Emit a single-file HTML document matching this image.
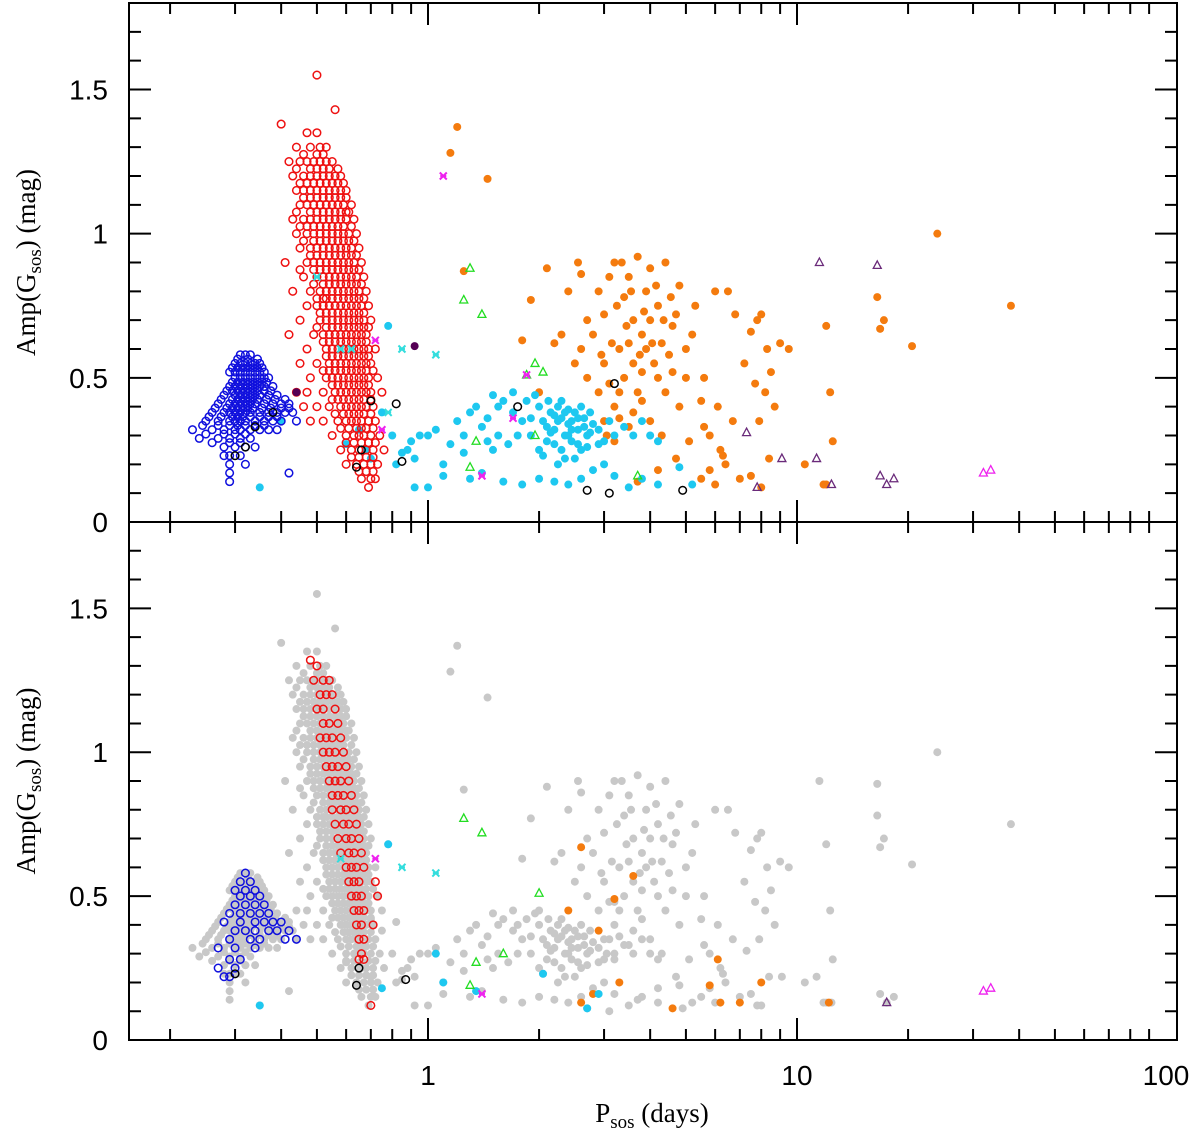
<!DOCTYPE html>
<html><head><meta charset="utf-8"><style>
body{margin:0;background:#fff;}
svg text{font-family:"Liberation Sans",sans-serif;}
</style></head><body>
<svg id="chart" width="1200" height="1142" xmlns="http://www.w3.org/2000/svg"></svg>
<script>
// ---- data ----
const redRowsTop = "1.55:0.5;1.43:0.56;1.38:0.4;1.35:0.47,0.5;1.3:0.44,0.48,0.51,0.53;1.25:0.42,0.45,0.47,0.49,0.51,0.53,0.55;1.2:0.43,0.46,0.48,0.5,0.52,0.54,0.56,0.58;1.15:0.44,0.46,0.48,0.5,0.52,0.54,0.56,0.58,0.6;1.1:0.45,0.47,0.49,0.51,0.53,0.55,0.57,0.59,0.62;1.05:0.43,0.46,0.48,0.5,0.52,0.54,0.56,0.58,0.6,0.63;1.0:0.44,0.47,0.49,0.51,0.53,0.55,0.57,0.59,0.61,0.64;0.95:0.45,0.48,0.5,0.52,0.54,0.56,0.58,0.6,0.62,0.65;0.9:0.41,0.47,0.49,0.51,0.53,0.55,0.57,0.59,0.61,0.63,0.66;0.85:0.46,0.5,0.52,0.54,0.56,0.58,0.6,0.62,0.64,0.67;0.8:0.43,0.48,0.51,0.53,0.55,0.57,0.59,0.61,0.63,0.65,0.68;0.75:0.47,0.5,0.52,0.54,0.56,0.58,0.6,0.62,0.64,0.66,0.69;0.7:0.45,0.51,0.53,0.55,0.57,0.59,0.61,0.63,0.65,0.67,0.7;0.65:0.42,0.49,0.52,0.54,0.56,0.58,0.6,0.62,0.64,0.66,0.68;0.6:0.47,0.53,0.55,0.57,0.59,0.61,0.63,0.65,0.67,0.69,0.72;0.55:0.45,0.5,0.54,0.56,0.58,0.6,0.62,0.64,0.66,0.68,0.7;0.5:0.48,0.53,0.55,0.57,0.59,0.61,0.63,0.65,0.67,0.69,0.73;0.45:0.44,0.47,0.52,0.56,0.58,0.6,0.62,0.64,0.66,0.68,0.7,0.75;0.4:0.46,0.5,0.54,0.58,0.6,0.62,0.64,0.66,0.68,0.71;0.35:0.48,0.52,0.57,0.6,0.62,0.64,0.66,0.69,0.72;0.3:0.55,0.6,0.63,0.65,0.67,0.7,0.74;0.25:0.58,0.62,0.65,0.68,0.71,0.76;0.2:0.6,0.64,0.67,0.7,0.73;0.15:0.66,0.7,0.72;0.12:0.69";
const redRowsTop2 = "1.275:0.46,0.5,0.52;1.225:0.44,0.48,0.5,0.52,0.54,0.57;1.175:0.45,0.47,0.49,0.51,0.53,0.55,0.57,0.59;1.125:0.46,0.48,0.5,0.52,0.54,0.56,0.58,0.6;1.075:0.44,0.48,0.5,0.52,0.54,0.56,0.58,0.6,0.61;1.025:0.45,0.47,0.49,0.51,0.53,0.55,0.57,0.59,0.62;0.975:0.46,0.49,0.51,0.53,0.55,0.57,0.59,0.61,0.63;0.925:0.48,0.5,0.52,0.54,0.56,0.58,0.6,0.62,0.64;0.875:0.45,0.49,0.51,0.53,0.55,0.57,0.59,0.61,0.63,0.65;0.825:0.49,0.52,0.54,0.56,0.58,0.6,0.62,0.64,0.66;0.775:0.5,0.52,0.53,0.55,0.57,0.59,0.61,0.63,0.65,0.67;0.725:0.51,0.53,0.55,0.57,0.59,0.61,0.63,0.65,0.67;0.675:0.5,0.53,0.55,0.57,0.59,0.61,0.63,0.65,0.67,0.69;0.625:0.52,0.54,0.56,0.58,0.6,0.62,0.64,0.66,0.68;0.575:0.53,0.55,0.57,0.59,0.61,0.63,0.65,0.67,0.69;0.525:0.52,0.54,0.56,0.58,0.6,0.62,0.64,0.66,0.68,0.71;0.475:0.55,0.57,0.59,0.61,0.63,0.65,0.67,0.69;0.425:0.55,0.57,0.59,0.61,0.63,0.65,0.67,0.7;0.375:0.56,0.59,0.61,0.63,0.65,0.67,0.7;0.325:0.58,0.61,0.64,0.66,0.68,0.71;0.275:0.6,0.63,0.66,0.69,0.72;0.225:0.62,0.65,0.68,0.71;0.175:0.65,0.68,0.71";
const blueRowsTop = "0.58:0.31,0.32,0.33;0.55:0.3,0.31,0.32,0.33,0.34,0.35;0.52:0.29,0.3,0.31,0.32,0.33,0.34,0.35,0.36;0.5:0.3,0.31,0.32,0.33,0.34,0.35,0.36,0.37;0.47:0.29,0.3,0.31,0.32,0.33,0.34,0.35,0.36,0.38;0.44:0.28,0.3,0.31,0.32,0.33,0.34,0.35,0.37,0.39;0.41:0.27,0.29,0.3,0.31,0.32,0.33,0.34,0.36,0.38,0.4,0.42;0.38:0.26,0.28,0.29,0.3,0.31,0.32,0.33,0.35,0.37,0.39,0.41,0.43;0.35:0.25,0.27,0.29,0.3,0.31,0.32,0.34,0.36,0.38,0.4,0.44;0.32:0.23,0.26,0.28,0.3,0.31,0.33,0.35,0.37,0.39;0.29:0.24,0.27,0.29,0.31,0.33;0.26:0.28,0.3,0.32,0.34;0.23:0.28,0.29,0.31;0.2:0.29,0.32;0.17:0.29,0.42;0.14:0.29";
const blueRowsTop2 = "0.565:0.305,0.325,0.345;0.535:0.295,0.305,0.315,0.325,0.335,0.345,0.355;0.485:0.295,0.305,0.315,0.325,0.335,0.345,0.355,0.365;0.455:0.285,0.295,0.305,0.315,0.325,0.335,0.345,0.36,0.375;0.425:0.275,0.295,0.305,0.315,0.325,0.335,0.345,0.365,0.385,0.41;0.395:0.265,0.285,0.295,0.305,0.315,0.325,0.335,0.355,0.375,0.4,0.42;0.365:0.255,0.275,0.295,0.305,0.315,0.33,0.35,0.37,0.39;0.335:0.245,0.27,0.29,0.305,0.32,0.34,0.36;0.305:0.25,0.28,0.3,0.32;0.275:0.26,0.29,0.31";
const orangeTop = "1.2,1.37 1.15,1.28 1.45,1.19 1.25,0.87 1.9,0.77 2.1,0.88 2.4,0.8 2.6,0.86 2.55,0.9 2.7,0.7 2.3,0.65 1.8,0.63 2.0,0.45 2.2,0.62 2.5,0.55 2.8,0.65 2.9,0.8 3.0,0.72 3.1,0.85 3.2,0.9 3.3,0.6 3.4,0.78 3.5,0.85 3.6,0.7 3.7,0.92 3.8,0.65 3.9,0.8 4.0,0.88 4.2,0.75 4.4,0.9 4.6,0.68 4.8,0.82 5.0,0.6 5.3,0.75 5.6,0.5 6.0,0.8 6.5,0.8 3.0,0.55 3.1,0.48 3.2,0.4 3.3,0.45 3.4,0.5 3.5,0.62 3.6,0.55 3.7,0.45 3.8,0.52 3.9,0.6 4.0,0.7 4.1,0.55 4.2,0.5 4.3,0.62 4.4,0.45 4.5,0.58 4.6,0.52 4.7,0.72 4.8,0.4 5.0,0.5 3.0,0.35 3.05,0.3 3.2,0.28 3.3,0.36 3.5,0.33 3.6,0.38 3.8,0.42 4.0,0.35 4.3,0.3 3.15,0.62 3.25,0.75 3.45,0.68 3.55,0.8 3.75,0.58 3.85,0.73 4.05,0.62 4.15,0.82 4.35,0.7 4.55,0.78 2.9,0.45 2.95,0.58 3.35,0.9 2.7,0.5 2.6,0.6 5.2,0.65 5.5,0.42 5.8,0.3 6.2,0.25 6.8,0.72 7.2,0.55 7.5,0.66 7.8,0.7 8.0,0.72 8.3,0.6 8.5,0.52 8.2,0.45 8.7,0.4 7.9,0.35 7.7,0.48 9.0,0.62 9.5,0.6 12.0,0.68 12.3,0.45 12.5,0.28 11.8,0.13 16.5,0.78 16.8,0.67 17.2,0.7 20.5,0.61 24,1.0 38,0.75 6.0,0.13 6.4,0.2 7.0,0.15 6.3,0.23 5.8,0.18 8.0,0.12 8.4,0.22 7.5,0.16 10.5,0.2 12,0.13 5.5,0.15 4.7,0.22 4.2,0.18 3.7,0.14 5.1,0.28 5.6,0.33 6.1,0.4 6.7,0.35";
const cyanTop = "0.35,0.12 0.4,0.35 0.6,0.27 0.65,0.32 0.68,0.25 0.7,0.22 0.75,0.38 0.78,0.68 0.8,0.3 0.82,0.2 0.85,0.24 0.88,0.25 0.9,0.28 0.92,0.22 0.95,0.3 1.0,0.3 1.05,0.32 1.1,0.2 1.15,0.27 1.2,0.35 1.25,0.3 1.3,0.38 1.35,0.4 1.4,0.33 1.45,0.36 1.5,0.25 1.55,0.4 1.6,0.42 1.7,0.38 1.8,0.35 1.9,0.3 2.0,0.4 2.05,0.35 2.1,0.28 2.15,0.38 2.2,0.32 2.25,0.4 2.3,0.36 2.35,0.3 2.4,0.34 2.45,0.28 2.5,0.38 2.55,0.32 2.6,0.25 2.65,0.36 2.7,0.3 2.8,0.34 2.9,0.32 3.0,0.28 3.1,0.35 3.2,0.3 3.4,0.33 3.6,0.3 3.8,0.35 4.0,0.3 4.2,0.28 2.2,0.27 2.3,0.25 2.4,0.3 2.5,0.22 2.2,0.37 2.1,0.33 2.3,0.42 2.6,0.4 2.0,0.25 1.9,0.36 1.75,0.3 1.65,0.27 1.55,0.3 1.45,0.28 1.85,0.42 2.35,0.22 2.45,0.35 2.55,0.27 2.75,0.38 1.0,0.12 1.1,0.16 1.3,0.15 1.4,0.17 1.6,0.14 1.8,0.13 2.0,0.15 2.2,0.14 2.4,0.13 2.6,0.15 2.8,0.18 3.0,0.2 3.2,0.16 3.5,0.12 3.8,0.15 4.2,0.13 4.8,0.19 5.2,0.13 0.92,0.12 1.25,0.24 2.05,0.23 2.25,0.2 2.7,0.26 1.95,0.44 1.7,0.45 1.5,0.44 2.9,0.27 2.15,0.31 2.25,0.35 2.35,0.38 2.45,0.32 2.55,0.36 2.65,0.33 2.75,0.31 2.12,0.42 2.4,0.39";
const blackTop = "0.3,0.23 0.32,0.26 0.34,0.33 0.38,0.38 0.64,0.19 0.66,0.25 0.7,0.42 0.82,0.41 0.85,0.21 1.75,0.4 2.7,0.11 3.1,0.1 3.2,0.48 4.9,0.11";
const greenTop = "1.25,0.77 1.3,0.88 1.4,0.72 1.3,0.19 1.35,0.28 1.95,0.55 2.05,0.52 1.85,0.51 1.95,0.3 3.7,0.16";
const purpleTop = "11.5,0.9 16.5,0.89 7.3,0.31 9.1,0.22 11.3,0.22 7.8,0.12 12.4,0.13 16.8,0.16 17.5,0.13 18.3,0.15";
const magStarTop = "1.1,1.2 1.4,0.16 1.7,0.36 1.85,0.51 0.72,0.63 0.75,0.32";
const magTriTop = "32,0.17 33.5,0.18";
const cyanStarTop = "0.5,0.85 0.58,0.6 0.62,0.6 0.78,0.38 0.85,0.6 1.05,0.58";
const darkStarTop = "0.44,0.45 0.92,0.61";

const redRowsBot = "1.32:0.48;1.3:0.5;1.25:0.49,0.52,0.54;1.2:0.51,0.53,0.55;1.15:0.5,0.52,0.56;1.1:0.52,0.54,0.57;1.05:0.51,0.53,0.55,0.58;1.0:0.52,0.54,0.56,0.59;0.95:0.53,0.55,0.57,0.6;0.9:0.54,0.56,0.58,0.61;0.85:0.55,0.57,0.59,0.62;0.8:0.55,0.58,0.6,0.63;0.75:0.56,0.59,0.61,0.64;0.7:0.57,0.6,0.62,0.65;0.65:0.58,0.61,0.63,0.66;0.6:0.6,0.62,0.64,0.67;0.55:0.61,0.63,0.65,0.72;0.5:0.62,0.64,0.66,0.73;0.45:0.63,0.65,0.67;0.4:0.64,0.66,0.71;0.35:0.65,0.67;0.3:0.66;0.28:0.67,0.65;0.12:0.7";
const blueRowsBot = "0.58:0.32;0.55:0.31,0.33;0.52:0.3,0.32,0.34;0.5:0.31,0.33,0.35;0.47:0.3,0.32,0.34,0.36;0.44:0.29,0.31,0.33,0.35,0.37;0.41:0.28,0.31,0.34,0.36,0.38,0.4;0.38:0.3,0.32,0.34,0.37,0.39,0.42;0.35:0.29,0.33,0.35,0.41,0.44;0.32:0.27,0.3,0.34;0.28:0.29,0.31;0.25:0.27,0.3;0.22:0.28,0.29";
const orangeBot = "2.6,0.67 2.4,0.45 3.6,0.57 3.2,0.49 2.9,0.38 2.6,0.13 4.6,0.11 5.8,0.19 6.1,0.28 6.2,0.13 7.0,0.13 8.0,0.2 12.2,0.13 3.3,0.2 2.8,0.16";
const cyanBot = "0.35,0.12 0.78,0.68 0.75,0.18 1.1,0.2 1.05,0.3 1.35,0.17 2.05,0.23 2.7,0.11 2.9,0.16";
const blackBot = "0.3,0.23 0.65,0.25 0.64,0.19 0.87,0.21";
const greenBot = "1.25,0.77 1.4,0.72 1.3,0.19 1.35,0.27 2.0,0.51 1.6,0.3";
const magStarBot = "1.4,0.16 0.72,0.63";
const cyanStarBot = "0.58,0.63 0.85,0.6 1.05,0.58";
const magTriBot = "32,0.17 33.5,0.18";
const purpleBot = "17.5,0.13";

const yTicks = [0, 0.5, 1, 1.5];
const yTickLabels = ["0", "0.5", "1", "1.5"];
const xTicks = [1, 10, 100];
const xTickLabels = ["1", "10", "100"];

// ---- layout ----
const svg = document.getElementById('chart');
const NS = "http://www.w3.org/2000/svg";
const L = 129, R = 1177;
const X1 = 428, DEC = 369;
const panels = [{top: 3, zero: 522}, {top: 522, zero: 1040}];
const YMAX = 1.8;
function xs(p){ return X1 + DEC * Math.log10(p); }
function ys(a, pi){ const P = panels[pi]; return P.zero - a / YMAX * (P.zero - P.top); }
function rows(s){ const out=[]; s.split(';').forEach(r=>{ const [a,ps]=r.split(':'); ps.split(',').forEach(p=>out.push([+p,+a])); }); return out; }
function pairs(s){ return s.trim().split(/\s+/).map(t=>t.split(',').map(Number)); }
function el(tag, attrs, parent){ const e=document.createElementNS(NS,tag); for(const k in attrs) e.setAttribute(k, attrs[k]); (parent||svg).appendChild(e); return e; }

function drawPoints(data, pi, kind, color, name){
  const g = el('g', {});
  
  
  data.forEach(([p,a])=>{
    const x = xs(p), y = ys(a, pi);
    let m;
    if (kind === 'open') m = el('circle', {cx:x, cy:y, r:3.8, fill:'none', stroke:color, 'stroke-width':1.5}, g);
    else if (kind === 'fill') m = el('circle', {cx:x, cy:y, r:4, fill:color}, g);
    else if (kind === 'tri') m = el('path', {d:`M${x},${y-4.5}L${x+4},${y+3}L${x-4},${y+3}Z`, fill:'none', stroke:color, 'stroke-width':1.3}, g);
    else if (kind === 'star') m = el('path', {d:`M${x-3.5},${y-3.5}L${x+3.5},${y+3.5}M${x+3.5},${y-3.5}L${x-3.5},${y+3.5}M${x-3},${y}L${x+3},${y}`, fill:'none', stroke:color, 'stroke-width':2}, g);
    
    
  });
}

// top panel
const redT = rows(redRowsTop).concat(rows(redRowsTop2)), blueT = rows(blueRowsTop).concat(rows(blueRowsTop2)), orT = pairs(orangeTop), cyT = pairs(cyanTop);
drawPoints(orT, 0, 'fill', '#f47b0e', 'top-orange-series');
drawPoints(cyT, 0, 'fill', '#1ec8f0', 'top-cyan-series');
drawPoints(redT, 0, 'open', '#ee1111', 'top-red-series');
drawPoints(blueT, 0, 'open', '#1010dd', 'top-blue-series');
drawPoints(pairs(blackTop), 0, 'open', '#000', 'top-black-series');
drawPoints(pairs(greenTop), 0, 'tri', '#22dd22', 'top-green-series');
drawPoints(pairs(purpleTop), 0, 'tri', '#6a2a7a', 'top-purple-series');
drawPoints(pairs(magTriTop), 0, 'tri', '#ee22ee', 'top-magenta-triangles');
drawPoints(pairs(magStarTop), 0, 'star', '#ee22ee', 'top-magenta-stars');
drawPoints(pairs(cyanStarTop), 0, 'star', '#33dddd', 'top-cyan-stars');
drawPoints(pairs(darkStarTop), 0, 'fill', '#550055', 'top-dark-stars');

// bottom panel
const grayAll = [].concat(orT, cyT, redT, blueT, pairs(blackTop), pairs(purpleTop));
drawPoints(grayAll, 1, 'fill', '#c8c8c8', 'bottom-gray-all');
drawPoints(pairs(orangeBot), 1, 'fill', '#f47b0e', 'bottom-orange-series');
drawPoints(pairs(cyanBot), 1, 'fill', '#1ec8f0', 'bottom-cyan-series');
drawPoints(rows(redRowsBot), 1, 'open', '#ee1111', 'bottom-red-series');
drawPoints(rows(blueRowsBot), 1, 'open', '#1010dd', 'bottom-blue-series');
drawPoints(pairs(blackBot), 1, 'open', '#000', 'bottom-black-series');
drawPoints(pairs(greenBot), 1, 'tri', '#22dd22', 'bottom-green-series');
drawPoints(pairs(purpleBot), 1, 'tri', '#6a2a7a', 'bottom-purple-series');
drawPoints(pairs(magTriBot), 1, 'tri', '#ee22ee', 'bottom-magenta-triangles');
drawPoints(pairs(magStarBot), 1, 'star', '#ee22ee', 'bottom-magenta-stars');
drawPoints(pairs(cyanStarBot), 1, 'star', '#33dddd', 'bottom-cyan-stars');

// axes / frames
const axes = el('g', {stroke:'#000', 'stroke-width':2, fill:'none'});


el('rect', {x:L, y:panels[0].top, width:R-L, height:panels[1].zero-panels[0].top}, axes);
el('line', {x1:L, x2:R, y1:522, y2:522}, axes);
let d = '';
for (let e=-1; e<=1; e++) for (let m=1; m<=9; m++){
  const p = m*Math.pow(10,e); const x = xs(p);
  if (x < L || x > R) continue;
  const len = m===1 ? 22 : 11;
  [panels[0].top, 522, 1040].forEach((yb,i)=>{
    if (i !== 2) d += `M${x},${yb}v${len}`;
    if (i !== 0) d += `M${x},${yb}v${-len}`;
  });
}
for (let pi=0; pi<2; pi++) for (let k=1; k<=17; k++){
  const a = k*0.1; const y = ys(a, pi); const len = (k%5===0) ? 22 : 12;
  d += `M${L},${y}h${len}M${R},${y}h${-len}`;
}
el('path', {d}, axes);

// labels
const lab = el('g', {'font-size':28, fill:'#000'});


for (let pi=0; pi<2; pi++) yTicks.forEach((v,i)=>{
  const t = el('text', {x:108, y:ys(v,pi)+10, 'text-anchor':'end'}, lab);
  t.textContent = yTickLabels[i];
  
  
});
xTicks.forEach((v,i)=>{
  const t = el('text', {x:xs(v), y:1085, 'text-anchor':'middle'}, lab);
  t.textContent = xTickLabels[i];
  
  
});
[ys(0.9,0), ys(0.9,1)].forEach((yc,i)=>{
  const t = el('text', {transform:`translate(35,${yc}) rotate(-90)`, 'text-anchor':'middle', 'font-size':27, fill:'#000', style:'font-family:"Liberation Serif",serif'});
  t.innerHTML = 'Amp(G<tspan font-size="19" dy="6">sos</tspan><tspan dy="-6">)  (mag)</tspan>';
  
  
});
const xt = el('text', {x:652, y:1122, 'text-anchor':'middle', 'font-size':27, fill:'#000', style:'font-family:"Liberation Serif",serif'});
xt.innerHTML = 'P<tspan font-size="19" dy="6">sos</tspan><tspan dy="-6">  (days)</tspan>';


</script>
</body></html>
